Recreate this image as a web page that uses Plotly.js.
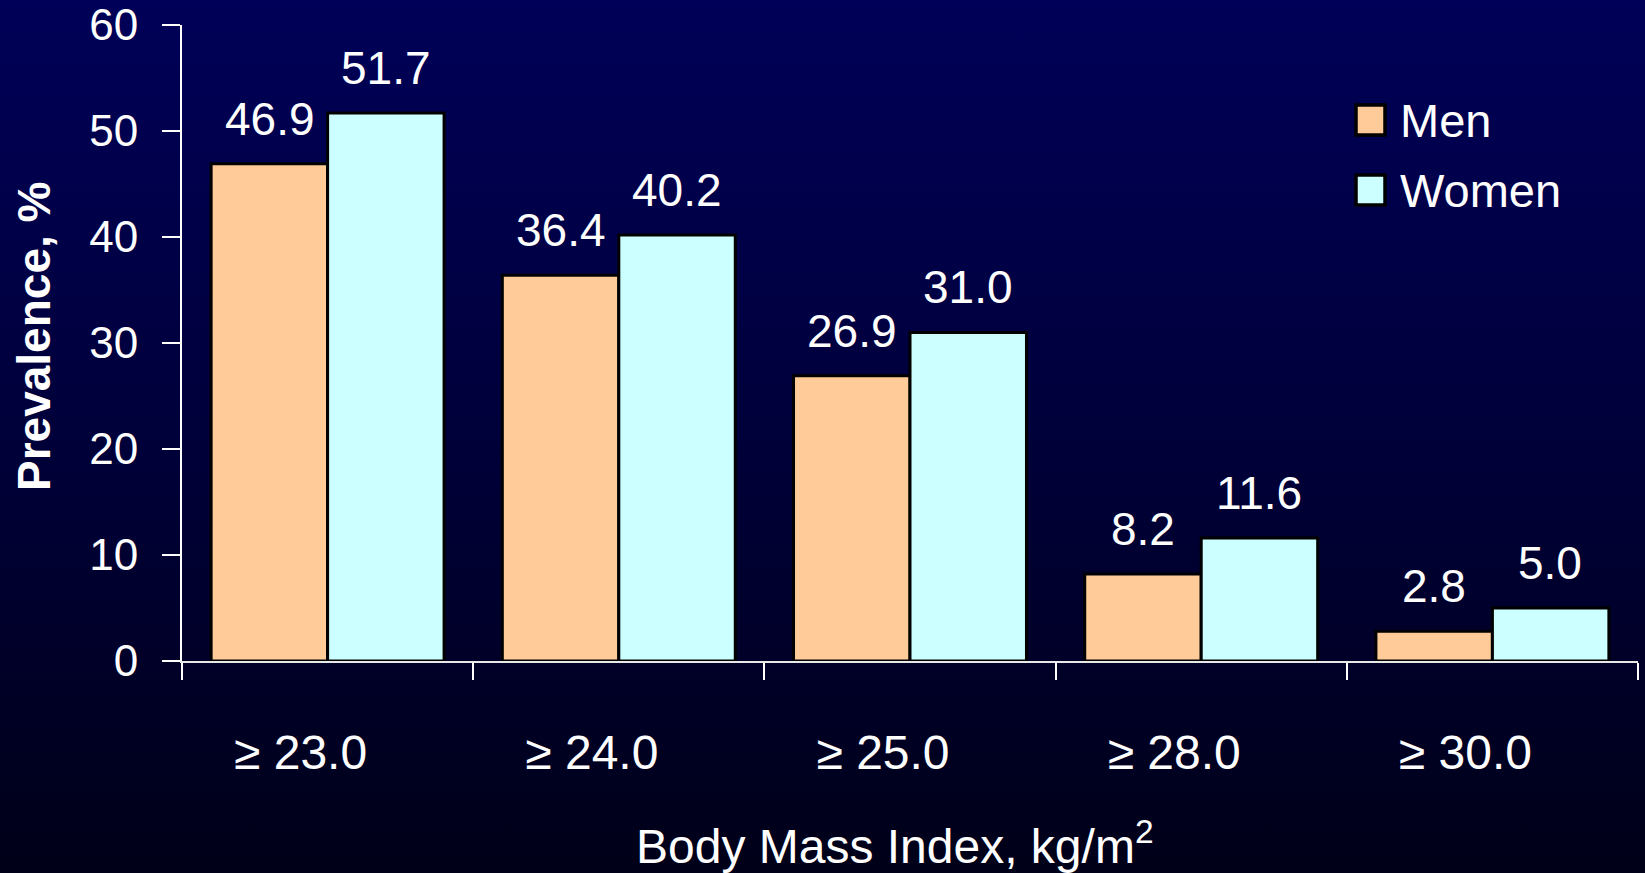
<!DOCTYPE html>
<html>
<head>
<meta charset="utf-8">
<script src="https://cdn.plot.ly/plotly-3.0.1.min.js"></script>
<style>
  html, body { margin: 0; padding: 0; width: 1645px; height: 873px; overflow: hidden;
    background: linear-gradient(to bottom, #000058 0%, #00003a 50%, #000018 100%); }
  #chart { width: 1645px; height: 873px; }
</style>
</head>
<body>
<div id="chart"></div>
<script>
// ---- data ----
const categories = ["\u2265 23.0", "\u2265 24.0", "\u2265 25.0", "\u2265 28.0", "\u2265 30.0"];
const seriesNames = ["Men", "Women"];
const menValues = [46.9, 36.4, 26.9, 8.2, 2.8];
const womenValues = [51.7, 40.2, 31.0, 11.6, 5.0];
const yTickValues = [0, 10, 20, 30, 40, 50, 60];
const xTitle = "Body Mass Index, kg/m<sup>2</sup>";
const yTitle = "Prevalence, %";

// ---- styling ----
const colors = ["#FFCC99", "#CCFFFF"];
const FONT = '"Liberation Sans", Arial, Helvetica, sans-serif';
const W = 1645, H = 873;
const M = { l: 182, r: 7, t: 25, b: 212 };
const PW = W - M.l - M.r, PH = H - M.t - M.b;
const px = x => (x - M.l) / PW;
const py = y => (H - M.b - y) / PH;

const allValues = [menValues, womenValues];
const traces = seriesNames.map((name, i) => ({
  type: "bar",
  name: name,
  x: categories,
  y: allValues[i],
  marker: { color: colors[i], line: { color: "#000000", width: 3 } },
  showlegend: false,
  hoverinfo: "x+y+name"
}));

// data labels above each bar
const barShift = 58;
const annotations = [];
allValues.forEach((vals, i) => {
  vals.forEach((v, j) => {
    annotations.push({
      x: categories[j], y: v, xref: "x", yref: "y",
      text: v.toFixed(1), showarrow: false,
      xshift: i === 0 ? -barShift : barShift,
      yanchor: "bottom", yshift: 17,
      font: { family: FONT, size: 46, color: "#FFFFFF" }
    });
  });
});

// axis titles
annotations.push({
  xref: "paper", yref: "paper", x: px(34), y: py(337),
  text: "<b>" + yTitle + "</b>", showarrow: false, textangle: -90,
  xanchor: "center", yanchor: "middle",
  font: { family: FONT, size: 46, color: "#FFFFFF" }
});
annotations.push({
  xref: "paper", yref: "paper", x: px(895), y: py(843),
  text: xTitle, showarrow: false,
  xanchor: "center", yanchor: "middle",
  font: { family: FONT, size: 48, color: "#FFFFFF" }
});

// legend (swatches + labels)
const shapes = [];
const legendRows = [120, 190];
seriesNames.forEach((name, i) => {
  const cy = legendRows[i];
  shapes.push({
    type: "rect", xref: "paper", yref: "paper",
    x0: px(1356), x1: px(1385), y0: py(cy + 15), y1: py(cy - 15),
    fillcolor: colors[i], line: { color: "#000000", width: 3.5 }
  });
  annotations.push({
    xref: "paper", yref: "paper", x: px(1398), y: py(cy),
    text: name, showarrow: false, xanchor: "left", yanchor: "middle",
    font: { family: FONT, size: 47, color: "#FFFFFF" }
  });
});

const layout = {
  width: W, height: H,
  margin: M,
  paper_bgcolor: "rgba(0,0,0,0)",
  plot_bgcolor: "rgba(0,0,0,0)",
  font: { family: FONT, color: "#FFFFFF", size: 44 },
  barmode: "group",
  bargap: 0.2,
  bargroupgap: 0,
  showlegend: false,
  xaxis: {
    type: "category",
    range: [-0.5, categories.length - 0.5],
    tickson: "boundaries",
    ticks: "outside", ticklen: 17, tickwidth: 2, tickcolor: "#FFFFFF",
    showline: true, linecolor: "#E8E8E8", linewidth: 2,
    showgrid: false, zeroline: false,
    tickfont: { family: FONT, size: 48, color: "#FFFFFF" },
    ticklabelstandoff: 48,
    ticklabelshift: -27,
    fixedrange: true
  },
  yaxis: {
    range: [0, 60],
    tickvals: yTickValues,
    ticks: "outside", ticklen: 18, tickwidth: 2, tickcolor: "#FFFFFF",
    showline: true, linecolor: "#FFFFFF", linewidth: 2,
    showgrid: false, zeroline: false,
    tickfont: { family: FONT, size: 44, color: "#FFFFFF" },
    ticklabelstandoff: 15,
    fixedrange: true
  },
  annotations: annotations,
  shapes: shapes
};

Plotly.newPlot("chart", traces, layout, { displayModeBar: false, staticPlot: true });
</script>
</body>
</html>
